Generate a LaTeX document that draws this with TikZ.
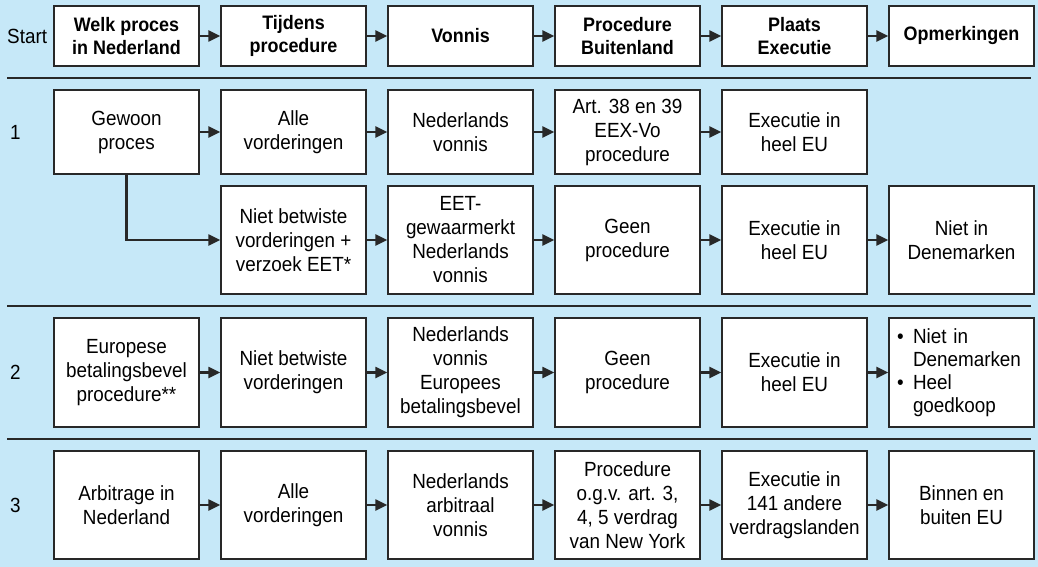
\documentclass[tikz,border=0pt]{standalone}
\usepackage{fontspec}
\setmainfont[FakeStretch=0.92]{Liberation Sans}
\usetikzlibrary{arrows.meta}
\definecolor{achtergrond}{RGB}{198,232,248}
\definecolor{lijn}{RGB}{40,40,40}

\begin{document}
\begin{tikzpicture}[x=1pt,y=-1pt,
    vak/.style={draw=lijn,line width=1.3pt,fill=white,minimum width=145pt,align=center,inner sep=2pt,font=\fontsize{20.5}{24}\selectfont},
    kop/.style={vak,minimum height=60pt,font=\fontsize{19.5}{23}\selectfont\bfseries},
    pijl/.style={lijn,line width=2.2pt,-{Triangle[length=12pt,width=11pt]}},
    scheiding/.style={lijn,line width=1.6pt},
    rij/.style={anchor=west,inner sep=0pt,font=\fontsize{20.5}{24}\selectfont}]
        %% Background
        \useasboundingbox (0,0) rectangle (1038,567);
        \fill[achtergrond] (0,0) rectangle (1038,567);
        %% Separators
        \draw[scheiding] (7,78) -- (1031,78);
        \draw[scheiding] (7,306) -- (1031,306);
        \draw[scheiding] (7,439) -- (1031,439);
        %% Header
        \node[rij] (start) at (7,36) {Start};
        \node[kop] (h1) at (126.5,36) {Welk proces\\in Nederland};
        \node[kop] (h2) at (293.5,36) {Tijdens\\procedure};
        \node[kop] (h3) at (460.5,36) {Vonnis};
        \node[kop] (h4) at (627.5,36) {Procedure\\Buitenland};
        \node[kop] (h5) at (794.5,36) {Plaats\\Executie};
        \node[kop] (h6) at (961.5,36) {Opmerkingen};
        %% Row 1
        \node[rij] (n1) at (10,132) {1};
        \node[vak,minimum height=84pt] (a1) at (126.5,132) {Gewoon\\proces};
        \node[vak,minimum height=84pt] (a2) at (293.5,132) {Alle\\vorderingen};
        \node[vak,minimum height=84pt] (a3) at (460.5,132) {Nederlands\\vonnis};
        \node[vak,minimum height=84pt] (a4) at (627.5,132) {Art. 38 en 39\\EEX-Vo\\procedure};
        \node[vak,minimum height=84pt] (a5) at (794.5,132) {Executie in\\heel EU};
        \node[vak,minimum height=108pt] (b2) at (293.5,240) {Niet betwiste\\vorderingen +\\verzoek EET*};
        \node[vak,minimum height=108pt] (b3) at (460.5,240) {EET-\\gewaarmerkt\\Nederlands\\vonnis};
        \node[vak,minimum height=108pt] (b4) at (627.5,240) {Geen\\procedure};
        \node[vak,minimum height=108pt] (b5) at (794.5,240) {Executie in\\heel EU};
        \node[vak,minimum height=108pt] (b6) at (961.5,240) {Niet in\\Denemarken};
        %% Row 2
        \node[rij] (n2) at (10,372.5) {2};
        \node[vak,minimum height=109pt] (c1) at (126.5,372.5) {Europese\\betalingsbevel\\procedure**};
        \node[vak,minimum height=109pt] (c2) at (293.5,372.5) {Niet betwiste\\vorderingen};
        \node[vak,minimum height=109pt] (c3) at (460.5,372.5) {Nederlands\\vonnis\\Europees\\betalingsbevel};
        \node[vak,minimum height=109pt] (c4) at (627.5,372.5) {Geen\\procedure};
        \node[vak,minimum height=109pt] (c5) at (794.5,372.5) {Executie in\\heel EU};
        \node[vak,minimum height=109pt,align=left,inner xsep=8pt,text width=129pt,font=\fontsize{20.5}{23}\selectfont] (c6) at (961.5,372.5)
            {\makebox[16pt][l]{\textbullet}Niet in\\\hspace*{16pt}Denemarken\\\makebox[16pt][l]{\textbullet}Heel\\\hspace*{16pt}goedkoop};
        %% Row 3
        \node[rij] (n3) at (10,505) {3};
        \node[vak,minimum height=108pt] (d1) at (126.5,505) {Arbitrage in\\Nederland};
        \node[vak,minimum height=108pt] (d2) at (293.5,505) {Alle\\vorderingen};
        \node[vak,minimum height=108pt] (d3) at (460.5,505) {Nederlands\\arbitraal\\vonnis};
        \node[vak,minimum height=108pt] (d4) at (627.5,505) {Procedure\\o.g.v. art. 3,\\4, 5 verdrag\\van New York};
        \node[vak,minimum height=108pt] (d5) at (794.5,505) {Executie in\\141 andere\\verdragslanden};
        \node[vak,minimum height=108pt] (d6) at (961.5,505) {Binnen en\\buiten EU};
        %% Arrows
        \draw[pijl] (h1) -- (h2); \draw[pijl] (h2) -- (h3); \draw[pijl] (h3) -- (h4);
        \draw[pijl] (h4) -- (h5); \draw[pijl] (h5) -- (h6);
        \draw[pijl] (a1) -- (a2); \draw[pijl] (a2) -- (a3); \draw[pijl] (a3) -- (a4);
        \draw[pijl] (a4) -- (a5);
        \draw[pijl] (a1.south) |- (b2.west);
        \draw[pijl] (b2) -- (b3); \draw[pijl] (b3) -- (b4); \draw[pijl] (b4) -- (b5);
        \draw[pijl] (b5) -- (b6);
        \draw[pijl] (c1) -- (c2); \draw[pijl] (c2) -- (c3); \draw[pijl] (c3) -- (c4);
        \draw[pijl] (c4) -- (c5); \draw[pijl] (c5) -- (c6);
        \draw[pijl] (d1) -- (d2); \draw[pijl] (d2) -- (d3); \draw[pijl] (d3) -- (d4);
        \draw[pijl] (d4) -- (d5); \draw[pijl] (d5) -- (d6);
\end{tikzpicture}
\end{document}
